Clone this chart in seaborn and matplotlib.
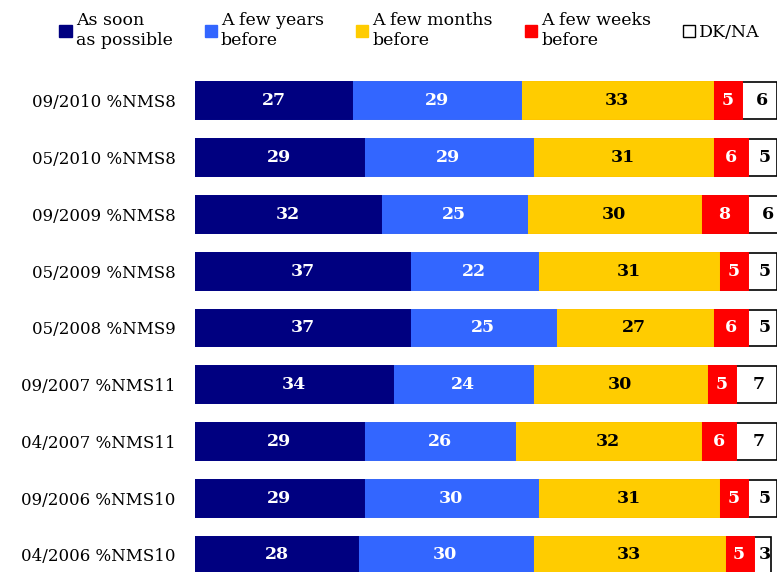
import matplotlib.pyplot as plt
import numpy as np
import pandas as pd
import seaborn as sns

# survey waves, top to bottom
waves = [
    "09/2010 %NMS8", "05/2010 %NMS8", "09/2009 %NMS8", "05/2009 %NMS8",
    "05/2008 %NMS9", "09/2007 %NMS11", "04/2007 %NMS11", "09/2006 %NMS10",
    "04/2006 %NMS10",
]
as_soon = [27, 29, 32, 37, 37, 34, 29, 29, 28]
few_years = [29, 29, 25, 22, 25, 24, 26, 30, 30]
few_months = [33, 31, 30, 31, 27, 30, 32, 31, 33]
few_weeks = [5, 6, 8, 5, 6, 5, 6, 5, 5]
dk_na = [6, 5, 6, 5, 5, 7, 7, 5, 3]

series = ["As soon\nas possible", "A few years\nbefore", "A few months\nbefore",
          "A few weeks\nbefore", "DK/NA"]
colors = ["#000080", "#3366FF", "#FFCC00", "#FF0000", "#FFFFFF"]
text_colors = ["white", "white", "black", "white", "black"]

values = np.array([as_soon, few_years, few_months, few_weeks, dk_na])
cum = values.cumsum(axis=0)

plt.rcParams["font.family"] = ["DejaVu Serif"]

fig = plt.figure(figsize=(7.77, 5.72), dpi=100)
ax = fig.add_axes([0.251, 0.0, 0.749, 0.869])

# draw from the full stack down so each shorter layer covers the left part
containers = []
for i in range(len(series) - 1, -1, -1):
    df = pd.DataFrame({"wave": waves, "end": cum[i]})
    if i == len(series) - 1:
        kw = dict(edgecolor="black", linewidth=1.2)
    else:
        kw = dict(edgecolor=colors[i], linewidth=1.4)
    sns.barplot(data=df, x="end", y="wave", orient="h", color=colors[i],
                width=0.65, saturation=1, ax=ax, **kw)
    containers.append(ax.containers[-1])
containers = containers[::-1]

# value labels at the middle of each segment
for i, cont in enumerate(containers):
    starts = cum[i] - values[i]
    for j, bar in enumerate(cont):
        xc = starts[j] + values[i][j] / 2
        if i == len(series) - 1:
            xc += 0.4
        ax.text(xc, bar.get_y() + bar.get_height() / 2, str(values[i][j]),
                ha="center", va="center", color=text_colors[i],
                fontsize=12.5, fontweight="bold")

ax.set_xlim(0, 100)
ax.set_ylim(8.30, -0.458)
ax.set_xlabel("")
ax.set_ylabel("")
ax.set_xticks([])
ax.tick_params(axis="y", length=0, pad=14, labelsize=12)
for s in ax.spines.values():
    s.set_visible(False)

handles = [plt.Rectangle((0, 0), 1, 1, facecolor=c, edgecolor="black" if c == "#FFFFFF" else c,
                         linewidth=1) for c in colors]
leg = fig.legend(handles, series, loc="upper left", bbox_to_anchor=(0.063, 0.998), ncol=5,
                 frameon=False, fontsize=12.5, handlelength=0.7, handleheight=0.7,
                 handletextpad=0.25, columnspacing=1.83, borderaxespad=0.2, labelspacing=0.2)
for t in leg.get_texts():
    t.set_linespacing(1.3)

fig.savefig("out.png", dpi=100)
